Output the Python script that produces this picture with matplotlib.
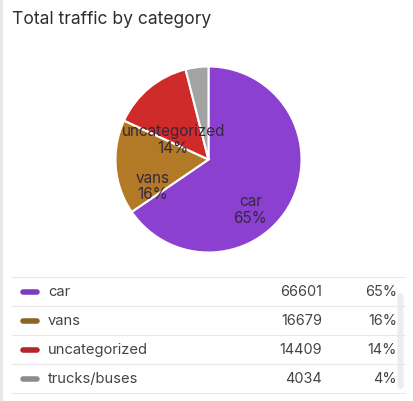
import matplotlib.pyplot as plt
from matplotlib.patches import FancyBboxPatch

# data
categories = ['car', 'vans', 'uncategorized', 'trucks/buses']
counts = [66601, 16679, 14409, 4034]
slice_colors = ['#8c40cf', '#b27a26', '#d02b2b', '#a3a3a3']
marker_colors = ['#7e3cbd', '#8a6526', '#b3272b', '#8c8c8c']
pie_labels = ['car', 'vans', 'uncategorized', '']
# label anchor spots inside the pie (unit-radius coords)
label_spots = [(0.45, -0.53), (-0.60, -0.28), (-0.38, 0.22), None]

W, H = 413, 402
fig = plt.figure(figsize=(W / 100, H / 100), dpi=100)
fig.patch.set_facecolor('white')

# background layer in pixel coords
bg = fig.add_axes([0, 0, 1, 1])
bg.set_xlim(0, W)
bg.set_ylim(H, 0)
bg.axis('off')
bg.plot([1, 1], [0, H], color='#e6e6e6', lw=2)

bg.text(12, 20, 'Total traffic by category', fontsize=12.6, color='#2e2e2e',
        va='center', ha='left', family='Inter')

# pie
cx, cy, r = 208.5, 160.5, 93
ax = fig.add_axes([(cx - r) / W, (H - cy - r) / H, 2 * r / W, 2 * r / H])
total = sum(counts)
wedges, texts = ax.pie(counts, colors=slice_colors, startangle=90, counterclock=False,
                       labels=[f'{l}\n{round(100 * c / total)}%' if l else ''
                               for l, c in zip(pie_labels, counts)],
                       labeldistance=0.62,
                       wedgeprops=dict(edgecolor='white', linewidth=1.5),
                       textprops=dict(fontsize=11, color='#35283f', ha='center',
                                      va='center', family='Inter', linespacing=1.15))
for t, spot in zip(texts, label_spots):
    t.set_horizontalalignment('center')
    t.set_verticalalignment('center')
    if spot is not None:
        t.set_position(spot)
ax.set_xlim(-1, 1)
ax.set_ylim(-1, 1)
ax.set_aspect('equal')

# legend table
row_lines = [278, 307, 336, 365, 394]
for y in row_lines:
    bg.plot([12, 405], [y, y], color='#e8e8e8', lw=0.8)

bg.add_patch(FancyBboxPatch((397.5, 294), 6, 96, boxstyle='round,pad=0,rounding_size=3',
                            facecolor='#ececec', edgecolor='none'))

for i, (name, cnt) in enumerate(zip(categories, counts)):
    y = (row_lines[i] + row_lines[i + 1]) / 2
    bg.plot([23, 37], [y, y], color=marker_colors[i], lw=4, solid_capstyle='round')
    bg.text(48, y, name, fontsize=10.6, color='#444444', va='center', ha='left', family='Inter')
    bg.text(322, y, f'{cnt}', fontsize=10.4, color='#444444', va='center', ha='right',
            family='Inter')
    bg.text(397, y, f'{round(100 * cnt / total)}%', fontsize=10.4, color='#444444',
            va='center', ha='right', family='Inter')

fig.savefig('out.png', dpi=100)
